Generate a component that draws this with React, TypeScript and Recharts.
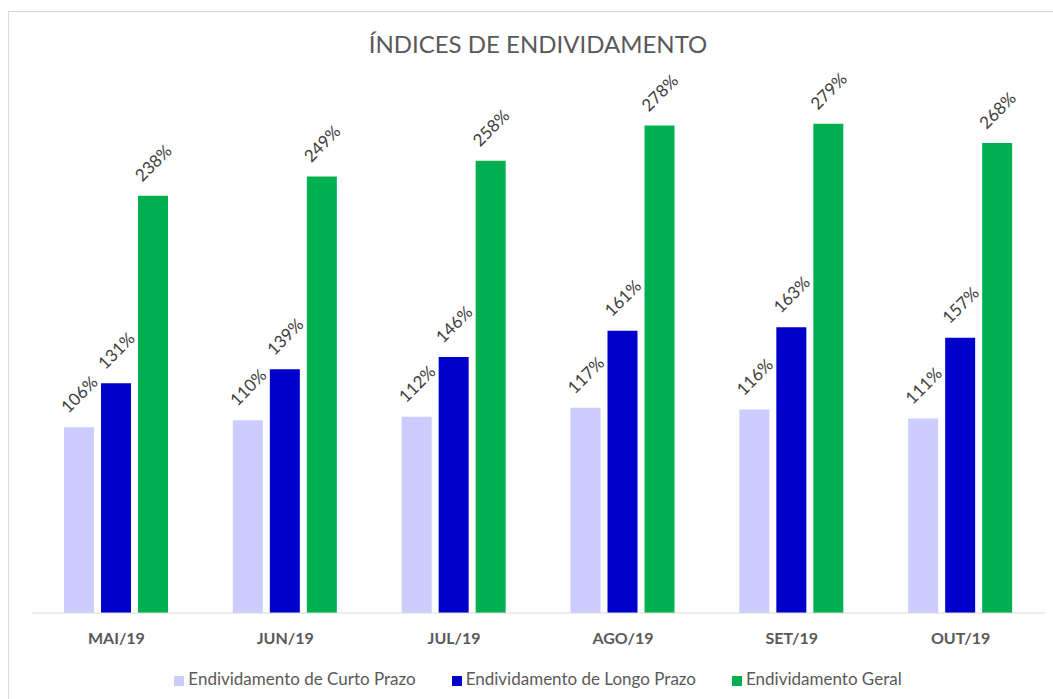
import { BarChart, Bar, XAxis, YAxis, Legend, LabelList } from "recharts";

// Data
const months = ["MAI/19", "JUN/19", "JUL/19", "AGO/19", "SET/19", "OUT/19"];
const curtoPrazo = [106, 110, 112, 117, 116, 111];
const longoPrazo = [131, 139, 146, 161, 163, 157];
const geral = [238, 249, 258, 278, 279, 268];

const FONT = "Lato, 'Open Sans', sans-serif";
const TEXT_GRAY = "#595959";

const chartData = months.map((m, i) => ({
  month: m,
  curto: curtoPrazo[i],
  longo: longoPrazo[i],
  geral: geral[i],
}));

// rotated value label above each bar
function RotatedLabel(props: any) {
  const { x, y, width, value } = props;
  const cx = Number(x) + Number(width) / 2;
  const cy = Number(y) - 33;
  return (
    <text
      x={cx}
      y={cy}
      transform={`rotate(-45 ${cx} ${cy})`}
      textAnchor="middle"
      dominantBaseline="central"
      fontFamily={FONT}
      fontSize={17}
      fill="#404040"
    >
      {`${value}%`}
    </text>
  );
}

export default function App() {
  return (
    <div style={{ position: "absolute", left: 0, top: 0, width: 1053, height: 699, overflow: "hidden", background: "#fff" }}>
      <div
        style={{
          position: "absolute",
          left: 8,
          top: 11,
          width: 1100,
          height: 760,
          border: "1px solid #d9d9d9",
        }}
      />
      <div
        style={{
          position: "absolute",
          left: 0,
          top: 29,
          width: 1076,
          textAlign: "center",
          fontFamily: FONT,
          fontSize: 24,
          color: TEXT_GRAY,
        }}
      >
        ÍNDICES DE ENDIVIDAMENTO
      </div>
      <div style={{ position: "absolute", left: 0, top: 0 }}>
        <BarChart
          width={1053}
          height={699}
          data={chartData}
          margin={{ top: 87, right: 8, bottom: 56, left: 32 }}
          barSize={30}
          barGap={7}
        >
          <XAxis
            dataKey="month"
            height={30}
            tickLine={false}
            axisLine={{ stroke: "#d9d9d9" }}
            tickMargin={14}
            tick={{ fontFamily: FONT, fontSize: 16, fontWeight: 700, fill: TEXT_GRAY }}
          />
          <YAxis hide domain={[0, 300]} />
          <Legend
            verticalAlign="middle"
            align="center"
            iconType="square"
            iconSize={10}
            itemSorter={null as any}
            wrapperStyle={{ top: 668, left: 0, width: 1112, fontFamily: FONT, fontSize: 17 }}
            formatter={(v: string) => <span style={{ color: TEXT_GRAY, marginRight: 26 }}>{v}</span>}
          />
          <Bar dataKey="curto" name="Endividamento de Curto Prazo" fill="#ccccff" isAnimationActive={false}>
            <LabelList dataKey="curto" content={RotatedLabel} />
          </Bar>
          <Bar dataKey="longo" name="Endividamento de Longo Prazo" fill="#0000cc" isAnimationActive={false}>
            <LabelList dataKey="longo" content={RotatedLabel} />
          </Bar>
          <Bar dataKey="geral" name="Endividamento Geral" fill="#00b050" isAnimationActive={false}>
            <LabelList dataKey="geral" content={RotatedLabel} />
          </Bar>
        </BarChart>
      </div>
    </div>
  );
}
